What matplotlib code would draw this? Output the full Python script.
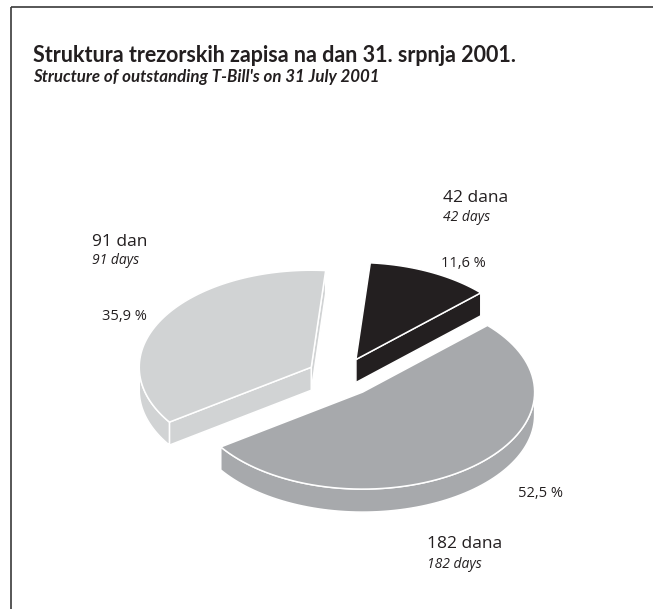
import numpy as np
import matplotlib.pyplot as plt
from matplotlib.patches import Polygon

# data
labels_hr = ['42 dana', '182 dana', '91 dan']
labels_en = ['42 days', '182 days', '91 days']
shares = [11.6, 52.5, 35.9]
share_text = ['11,6 %', '52,5 %', '35,9 %']
colors = ['#231f20', '#a7a9ac', '#d1d3d4']

title_hr = 'Struktura trezorskih zapisa na dan 31. srpnja 2001.'
title_en = "Structure of outstanding T-Bill's on 31 July 2001"

W, H = 653, 609
FONT = ['Open Sans', 'DejaVu Sans']
TFONT = ['Lato', 'DejaVu Sans']

# pie geometry (pixels, y pointing down)
cx, cy = 341, 377
rx, ry = 172, 97
depth = 23
explode = 0.2
start = 85.2

fig = plt.figure(figsize=(W / 100, H / 100), dpi=100)
ax = fig.add_axes([0, 0, 1, 1])
ax.set_xlim(0, W)
ax.set_ylim(H, 0)
ax.axis('off')

# frame: top and left rule
ax.plot([11, W], [7, 7], color='#3a3a3a', lw=1.2, solid_capstyle='butt')
ax.plot([11, 11], [7, H], color='#3a3a3a', lw=1.2, solid_capstyle='butt')


def pt(ox, oy, a, r=1.0):
    t = np.radians(a)
    return ox + r * rx * np.cos(t), oy - r * ry * np.sin(t)


def arc(ox, oy, a0, a1, n=80):
    t = np.linspace(a0, a1, n)
    return [pt(ox, oy, a) for a in t]


def face(points, color):
    ax.add_patch(Polygon(points, closed=True, facecolor=color,
                         edgecolor='white', lw=1.1, joinstyle='round'))


total = sum(shares)
slices = []
a_hi = start
for v, col in zip(shares, colors):
    span = 360.0 * v / total
    a_lo = a_hi - span
    mid = np.radians((a_hi + a_lo) / 2)
    ox = cx + explode * rx * np.cos(mid)
    oy = cy - explode * ry * np.sin(mid)
    slices.append((a_lo, a_hi, ox, oy, col))
    a_hi = a_lo

# back to front: black, light, gray
for i in [0, 2, 1]:
    a_lo, a_hi, ox, oy, col = slices[i]
    # radial side faces
    for a, nrm in [(a_lo, a_lo - 90), (a_hi, a_hi + 90)]:
        if np.sin(np.radians(nrm)) < -1e-3:
            px, py = pt(ox, oy, a)
            face([(ox, oy), (px, py), (px, py + depth), (ox, oy + depth)], col)
    # outer curved side, front half only
    for k in range(-2, 3):
        f0, f1 = 180 + 360 * k, 360 + 360 * k
        s0, s1 = max(a_lo, f0), min(a_hi, f1)
        if s1 > s0:
            top = arc(ox, oy, s0, s1)
            bot = [(x, y + depth) for x, y in top[::-1]]
            face(top + bot, col)
    # top surface
    face([(ox, oy)] + arc(ox, oy, a_lo, a_hi), col)

# titles
ax.text(33, 62, title_hr, fontsize=15.5, fontweight='bold', family=TFONT,
        color='#231f20', va='baseline', ha='left')
ax.text(33, 82, title_en, fontsize=12.2, fontweight='bold', style='italic',
        family=TFONT, color='#231f20', va='baseline', ha='left')

# labels (baselines)
lab_pos = [(443, 202), (427, 548), (92, 246)]
sub_y = [221, 568, 264]
pct_pos = [(441, 267), (518, 497), (102, 320)]
for i in range(3):
    x, y = lab_pos[i]
    ax.text(x, y, labels_hr[i], fontsize=12.5, family=FONT, color='#231f20',
            va='baseline', ha='left')
    ax.text(x, sub_y[i], labels_en[i], fontsize=10, style='italic', family=FONT,
            color='#231f20', va='baseline', ha='left')
    x, y = pct_pos[i]
    ax.text(x, y, share_text[i], fontsize=10.5, family=FONT, color='#231f20',
            va='baseline', ha='left')

fig.savefig('out.png', dpi=100, facecolor='white')
